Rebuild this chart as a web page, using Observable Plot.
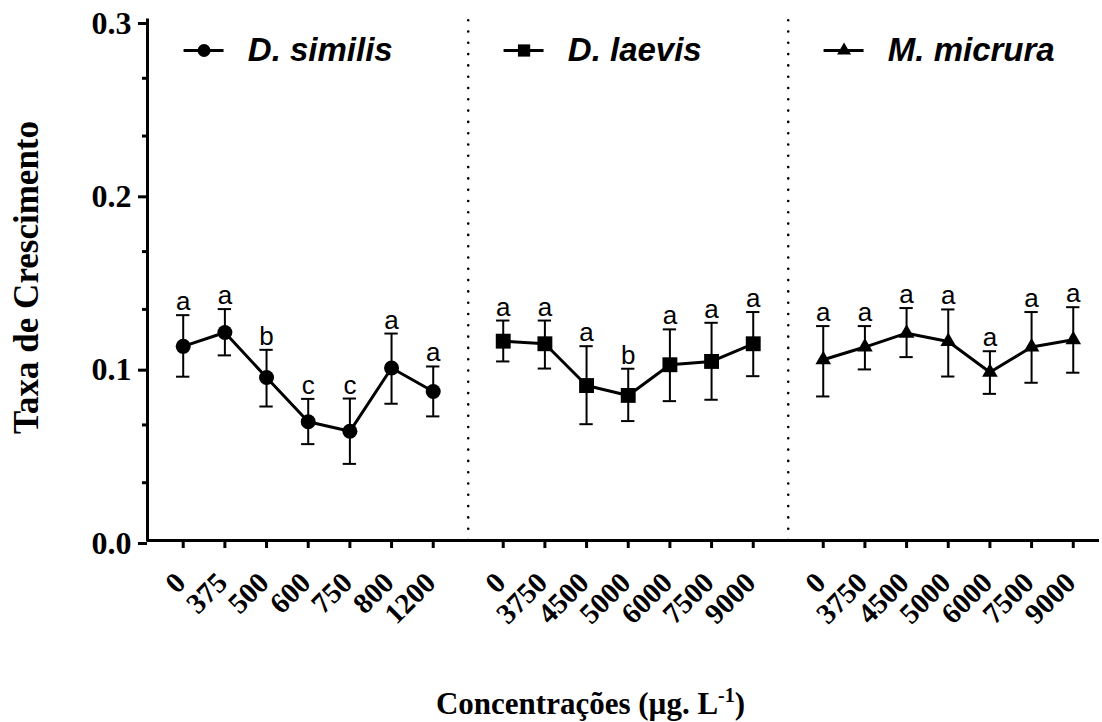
<!DOCTYPE html>
<html>
<head>
<meta charset="utf-8">
<script src="https://cdn.jsdelivr.net/npm/d3@7"></script>
<script src="https://cdn.jsdelivr.net/npm/@observablehq/plot@0.6"></script>
<style>
  html, body { margin: 0; padding: 0; background: #fff; }
  #chart { width: 1102px; height: 722px; }
</style>
</head>
<body>
<div id="chart"></div>
<script>
// ---------- data ----------
const species = ["D. similis", "D. laevis", "M. micrura"];
const speciesSymbols = ["circle", "square", "triangle"];

const concSimilis = ["0", "375", "500", "600", "750", "800", "1200"];
const concLaevis  = ["0", "3750", "4500", "5000", "6000", "7500", "9000"];
const concMicrura = ["0", "3750", "4500", "5000", "6000", "7500", "9000"];

const meanSimilis  = [0.112, 0.120, 0.094, 0.0685, 0.063, 0.0995, 0.086];
const upperSimilis = [0.130, 0.1335, 0.110, 0.0817, 0.0819, 0.1194, 0.1004];
const lowerSimilis = [0.0945, 0.1068, 0.0773, 0.0556, 0.0442, 0.0789, 0.0716];
const letterSimilis = ["a", "a", "b", "c", "c", "a", "a"];

const meanLaevis  = [0.115, 0.1135, 0.0894, 0.0837, 0.1014, 0.1033, 0.1135];
const upperLaevis = [0.1269, 0.1269, 0.1121, 0.0991, 0.1218, 0.1256, 0.1318];
const lowerLaevis = [0.1033, 0.0992, 0.0671, 0.0689, 0.0804, 0.0812, 0.0948];
const letterLaevis = ["a", "a", "a", "b", "a", "a", "a"];

const meanMicrura  = [0.1043, 0.1116, 0.1196, 0.1148, 0.0971, 0.1116, 0.1158];
const upperMicrura = [0.1237, 0.1237, 0.1341, 0.1333, 0.1092, 0.1318, 0.1346];
const lowerMicrura = [0.0831, 0.0987, 0.1058, 0.0946, 0.0846, 0.0910, 0.0968];
const letterMicrura = ["a", "a", "a", "a", "a", "a", "a"];

const yMajorTicks = [0, 0.1, 0.2, 0.3];
const yMinorTicks = [0.1/3, 0.2/3, 0.4/3, 0.5/3, 0.7/3, 0.8/3];

const yTitle = "Taxa de Crescimento";
const xTitle = "Concentrações (µg. L-1)";

// ---------- layout helpers ----------
const GROUP_STEP = 7.68;
const concs = [concSimilis, concLaevis, concMicrura];
const means = [meanSimilis, meanLaevis, meanMicrura];
const uppers = [upperSimilis, upperLaevis, upperMicrura];
const lowers = [lowerSimilis, lowerLaevis, lowerMicrura];
const letters = [letterSimilis, letterLaevis, letterMicrura];

const rows = [];
species.forEach((sp, g) => {
  concs[g].forEach((c, i) => {
    rows.push({
      species: sp, group: g, slot: g * GROUP_STEP + i, label: c,
      mean: means[g][i], upper: uppers[g][i], lower: lowers[g][i], letter: letters[g][i]
    });
  });
});
const tickSlots = rows.map(d => d.slot);
const separators = [1, 2].map(g => g * GROUP_STEP - (GROUP_STEP - 6) / 2);
const legend = species.map((sp, g) => ({species: sp, group: g, base: g * GROUP_STEP}));

const serif = "'Liberation Serif', 'Times New Roman', serif";
const sans = "'Liberation Sans', Arial, sans-serif";
const dataR = [7.5, 8.4, 5.8];
const legendR = [6.5, 6.9, 5.2];
const CAP = 0.16;

const marks = [
  // separators
  Plot.ruleX(separators, {y1: 0, y2: 0.3, stroke: "black", strokeWidth: 2.6,
    strokeDasharray: "0 11.3", strokeLinecap: "round"}),
  // axis lines
  Plot.ruleY([0], {stroke: "black", strokeWidth: 3}),
  Plot.ruleX([-0.857], {y1: 0, y2: 0.3, stroke: "black", strokeWidth: 3, strokeLinecap: "square"}),
  // y axis
  Plot.axisY({ticks: yMajorTicks, tickSize: 9, tickPadding: 7, strokeWidth: 3,
    tickFormat: d3.format(".1f"), fontSize: 32, fontWeight: "bold", fontFamily: serif, dy: 3, label: null}),
  Plot.axisY({ticks: yMinorTicks, tickSize: 5, strokeWidth: 3, tickFormat: () => "", label: null}),
  // x axis ticks
  Plot.axisX({ticks: tickSlots, tickSize: 8, strokeWidth: 3, tickFormat: () => "", label: null}),
  // x tick labels (rotated)
  Plot.text(rows, {x: "slot", y: () => 0, text: "label", rotate: -45,
    textAnchor: "end", lineAnchor: "bottom", dx: 4, dy: 44,
    fontSize: 29, fontWeight: "bold", fontFamily: serif, fill: "black"}),
  // error bars
  Plot.ruleX(rows, {x: "slot", y1: "lower", y2: "upper", stroke: "black", strokeWidth: 2}),
  Plot.ruleY(rows, {y: "upper", x1: d => d.slot - CAP, x2: d => d.slot + CAP, stroke: "black", strokeWidth: 2}),
  Plot.ruleY(rows, {y: "lower", x1: d => d.slot - CAP, x2: d => d.slot + CAP, stroke: "black", strokeWidth: 2}),
  // lines
  Plot.line(rows, {x: "slot", y: "mean", z: "species", stroke: "black", strokeWidth: 3}),
];
species.forEach((sp, g) => {
  marks.push(Plot.dot(rows.filter(d => d.group === g), {x: "slot", y: "mean",
    symbol: speciesSymbols[g], r: dataR[g], fill: "black", stroke: "none"}));
});
marks.push(
  // significance letters
  Plot.text(rows, {x: "slot", y: "upper", text: "letter", lineAnchor: "bottom", dy: -5,
    fontSize: 26, fontFamily: sans, fill: "black"}),
  // legends
  Plot.ruleY(legend, {x1: d => d.base + 0.02, x2: d => d.base + 0.98,
    y: () => 0.3, dy: 30, stroke: "black", strokeWidth: 3}),
);
species.forEach((sp, g) => {
  marks.push(Plot.dot([legend[g]], {x: d => d.base + 0.5, y: () => 0.3, dy: 30,
    symbol: speciesSymbols[g], r: legendR[g], fill: "black", stroke: "none"}));
});
marks.push(
  Plot.text(legend, {x: d => d.base + 1.55, y: () => 0.3, dy: 30, text: "species",
    textAnchor: "start", lineAnchor: "middle", fontSize: 33, fontWeight: "bold",
    fontStyle: "italic", fontFamily: sans, fill: "black"}),
  // titles
  Plot.text([yTitle], {frameAnchor: "left", text: d => d, rotate: -90, lineAnchor: "bottom",
    textAnchor: "middle", dx: -110, dy: -3, fontSize: 35, fontWeight: "bold", fontFamily: serif, fill: "black"}),
  Plot.text([xTitle], {frameAnchor: "bottom", text: d => d, lineAnchor: "bottom", textAnchor: "middle",
    dx: -33, dy: 173, fontSize: 31, fontWeight: "bold", fontFamily: serif, fill: "black"})
);

const chart = Plot.plot({
  width: 1102,
  height: 722,
  marginLeft: 147,
  marginRight: 3,
  marginTop: 20,
  marginBottom: 182,
  style: {background: "white", color: "black", overflow: "visible"},
  x: {type: "linear", domain: [-0.857, 21.99], axis: null, label: null},
  y: {type: "linear", domain: [0, 0.3], axis: null, label: null},
  marks
});
document.getElementById("chart").appendChild(chart);

// superscript in the x title
const tt = [...chart.querySelectorAll("text")].find(e => e.textContent === xTitle);
if (tt) {
  tt.textContent = "";
  const ns = "http://www.w3.org/2000/svg";
  const a = document.createElementNS(ns, "tspan");
  a.textContent = "Concentrações (µg. L";
  const b = document.createElementNS(ns, "tspan");
  b.textContent = "-1";
  b.setAttribute("dy", "-12");
  b.setAttribute("font-size", "20");
  const c = document.createElementNS(ns, "tspan");
  c.textContent = ")";
  c.setAttribute("dy", "12");
  tt.append(a, b, c);
}
</script>
</body>
</html>
